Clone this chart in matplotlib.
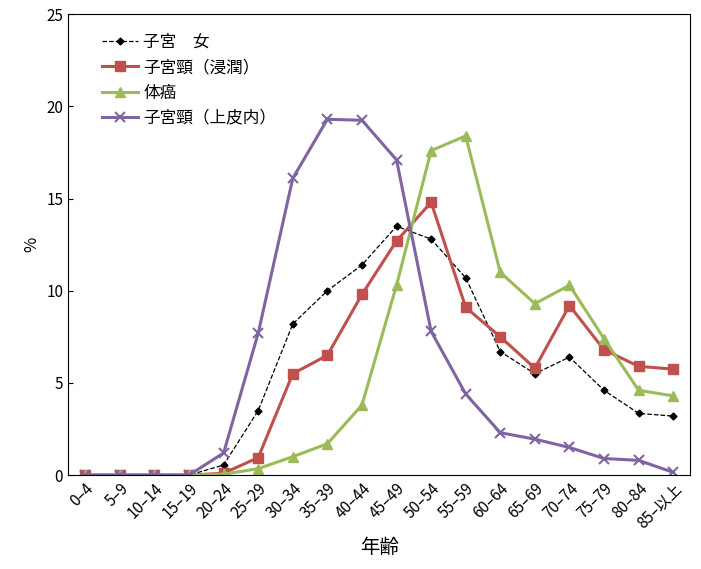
import matplotlib
matplotlib.use("Agg")
import matplotlib.pyplot as plt

plt.rcParams['font.family'] = ['Noto Sans CJK JP', 'DejaVu Sans']

ages = ["0–4", "5–9", "10–14", "15–19", "20–24", "25–29", "30–34", "35–39", "40–44",
        "45–49", "50–54", "55–59", "60–64", "65–69", "70–74", "75–79", "80–84", "85–以上"]
uterus = [0, 0, 0, 0, 0.55, 3.5, 8.2, 10.0, 11.4, 13.5, 12.8, 10.7, 6.7, 5.5, 6.4, 4.6, 3.35, 3.2]
cervix_inv = [0, 0, 0, 0, 0.1, 0.95, 5.5, 6.5, 9.8, 12.7, 14.8, 9.1, 7.5, 5.8, 9.2, 6.8, 5.9, 5.75]
corpus = [0, 0, 0, 0, 0.05, 0.35, 1.0, 1.7, 3.8, 10.3, 17.6, 18.4, 11.0, 9.3, 10.3, 7.4, 4.6, 4.3]
cervix_cis = [0, 0, 0, 0, 1.2, 7.7, 16.1, 19.3, 19.25, 17.1, 7.8, 4.4, 2.3, 1.95, 1.5, 0.9, 0.8, 0.15]

x = range(len(ages))
fig, ax = plt.subplots(figsize=(7.01, 5.69), dpi=100)
fig.subplots_adjust(left=0.097, right=0.985, bottom=0.165, top=0.975)

ax.plot(x, uterus, 'k--', lw=0.9, marker='D', ms=3.5, label='子宮　女')
ax.plot(x, cervix_inv, color='#C0504D', lw=2.2, marker='s', ms=7, label='子宮頸（浸潤）')
ax.plot(x, corpus, color='#9BBB59', lw=2.2, marker='^', ms=7, label='体癌')
ax.plot(x, cervix_cis, color='#8064A2', lw=2.2, marker='x', ms=7, mew=1.5, label='子宮頸（上皮内）')

ax.set_xlim(-0.5, len(ages) - 0.5)
ax.set_ylim(0, 25)
ax.set_yticks(range(0, 26, 5))
ax.set_xticks(list(x))
ax.set_xticklabels(ages, rotation=45, ha='right', rotation_mode='anchor', fontsize=10)
ax.tick_params(direction='in', labelsize=11)
ax.tick_params(axis='x', direction='out', length=0)
ax.set_xlabel('年齢', fontsize=14)
ax.set_ylabel('%', fontsize=12)
ax.legend(loc='upper left', bbox_to_anchor=(0.03, 0.99), frameon=False, fontsize=12,
          handlelength=2.2, handletextpad=0.3, labelspacing=0.5)

fig.savefig('out.png')
